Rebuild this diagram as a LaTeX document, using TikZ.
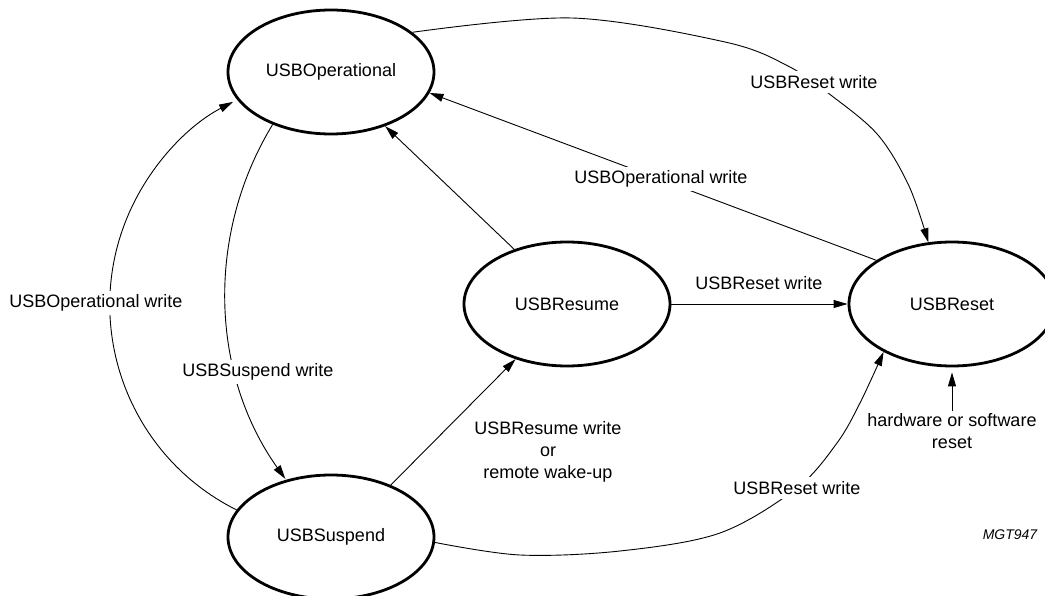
\documentclass[tikz,border=0pt]{standalone}
\usepackage{fontspec}
\setmainfont{Liberation Sans}
\usetikzlibrary{shapes.geometric,arrows.meta}
\begin{document}
\begin{tikzpicture}[x=1pt,y=1pt,
  state/.style={ellipse, draw, line width=2.8pt, minimum width=206pt, minimum height=124pt, inner sep=0pt, font=\fontsize{18}{22}\selectfont},
  lbl/.style={font=\fontsize{18}{22}\selectfont, inner sep=2pt, align=center},
  gap/.style={lbl, fill=white, inner sep=4pt},
  wire/.style={line width=0.9pt},
  conn/.style={wire, -{Triangle[length=14pt,width=8pt]}},
]
\useasboundingbox (0,0) rectangle (1045,-596);
% states
\node[state] (op)  at (331,-72)  {USBOperational};
\node[state] (res) at (567,-304) {USBResume};
\node[state] (rst) at (952,-304) {USBReset};
\node[state] (sus) at (331,-537) {USBSuspend};

% connectors
\draw[conn] plot[smooth, tension=0.55] coordinates {(op.26) (572,-18) (725,-42) (788,-66) (832,-96) (878,-135) (909,-186) (rst.111)};
\draw[conn] (rst.150) -- (op.-12);
\draw[conn] (res.134) -- (op.-45);
\draw[conn] (res.east) -- (rst.west);
\draw[conn] (sus.41) -- (res.227);
\draw[conn] plot[smooth, tension=0.55] coordinates {(sus.-3) (520,-555) (620,-551) (720,-533) (797,-488) (837,-443) (860,-403) (rst.215)};
\draw[conn] (sus.164) arc[start angle=243.5, end angle=117.5, radius=229];
\draw[conn] (op.222) arc[start angle=148.6, end angle=215.5, radius=321.6];

% labels
\node[gap] (l1) at (814,-82)  {USBReset write};
\node[gap] (l2) at (661,-179) {USBOperational write};
\node[lbl] (l3) at (759,-283) {USBReset write};
\node[gap] (l4) at (96,-303)  {USBOperational write};
\node[gap] (l5) at (258,-372) {USBSuspend write};
\node[lbl] (l6) at (548,-452) {USBResume write\\or\\remote wake-up};
\node[lbl] (l7) at (952,-431) {hardware or software\\reset};
\node[gap] (l8) at (797,-488) {USBReset write};
\node[font=\itshape\fontsize{14}{16}\selectfont] (mgt) at (1010,-535) {MGT947};

\draw[conn, shorten >=5pt] (l7.north) -- (rst.south);
\end{tikzpicture}
\end{document}
